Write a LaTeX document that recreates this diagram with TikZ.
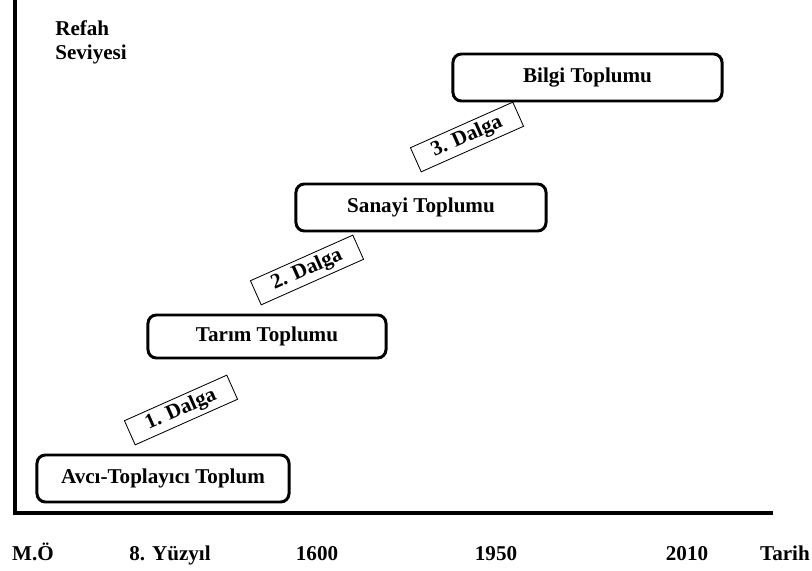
\documentclass[tikz,border=0pt]{standalone}
\usepackage{fontspec}
\setmainfont{Liberation Serif}
\usetikzlibrary{positioning}
\tikzstyle{axisline}=[line width=2.2pt]
\tikzstyle{society}=[draw, line width=2.1pt, rounded corners=6pt, align=center]
\tikzstyle{wave}=[draw, line width=0.6pt, rotate=24, minimum width=2.8cm, minimum height=0.66cm, inner sep=1pt]
\tikzstyle{datelabel}=[inner sep=0pt, anchor=base]

\begin{document}
\begin{tikzpicture}[x=0.025cm, y=-0.025cm, font=\fontsize{15}{17}\selectfont\bfseries]
    \useasboundingbox (0,0) rectangle (812,571);

    % eksenler
    \coordinate (top) at (15,0);
    \coordinate (O) at (15,513);
    \coordinate (end) at (773,513);
    \draw [axisline] (top) -- (O) -- (end);

    % dikey eksen etiketi
    \node [anchor=north west, align=left, inner sep=0pt] (refah) at (55,20) {Refah\\Seviyesi};

    % toplum kutuları
    \node [society, minimum width=6.3cm, minimum height=1.175cm] (avci) at (163,478.5) {Avcı-Toplayıcı Toplum};
    \node [society, minimum width=5.95cm, minimum height=1.075cm] (tarim) at (267,336.5) {Tarım Toplumu};
    \node [society, minimum width=6.25cm, minimum height=1.175cm] (sanayi) at (421,207.5) {Sanayi Toplumu};
    \node [society, minimum width=6.725cm, minimum height=1.175cm] (bilgi) at (587.5,77.5) {Bilgi Toplumu};

    % dalgalar
    \node [wave] (dalga1) at (181,410) {1. Dalga};
    \node [wave] (dalga2) at (307,270) {2. Dalga};
    \node [wave] (dalga3) at (467,137) {3. Dalga};

    % tarih etiketleri
    \node [datelabel] (mo) at (33,561) {M.Ö};
    \node [datelabel] (yuzyil) at (170,561) {8. Yüzyıl};
    \node [datelabel] (y1600) at (317,561) {1600};
    \node [datelabel] (y1950) at (496,561) {1950};
    \node [datelabel] (y2010) at (687,561) {2010};
    \node [datelabel] (tarih) at (785,561) {Tarih};
\end{tikzpicture}
\end{document}
